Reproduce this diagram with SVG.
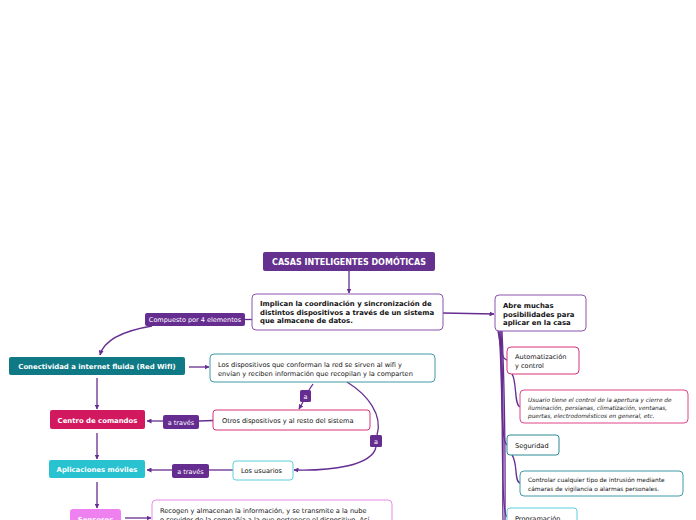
<svg xmlns="http://www.w3.org/2000/svg" width="696" height="520" viewBox="0 0 696 520">
<defs>
<marker id="ah" viewBox="0 0 10 10" refX="9" refY="5" markerWidth="5" markerHeight="5" orient="auto" markerUnits="userSpaceOnUse">
<path d="M0,0 L10,5 L0,10 Z" fill="#662d91"/>
</marker>
<style>
text{font-family:"DejaVu Sans",Verdana,sans-serif;}
.c{fill:none;stroke:#662d91;stroke-width:1.3;}
.ca{fill:none;stroke:#662d91;stroke-width:1.3;marker-end:url(#ah);}
.lbl{fill:#662d91;}
.lt{fill:#fff;font-size:6.5px;text-anchor:middle;}
.wt{fill:#fff;font-size:6.9px;font-weight:bold;text-anchor:middle;}
.bt{fill:#111;font-size:6.6px;}
.bb{fill:#111;font-size:6.9px;font-weight:bold;}
.it{fill:#222;font-size:5.8px;font-style:italic;}
</style>
</defs>
<rect width="696" height="520" fill="#fff"/>
<g id="connectors">
<path class="ca" d="M349,271 L349,293"/>
<path class="c" d="M245,319.5 L252,319.5"/>
<path class="ca" d="M152,326 C122,331 104,340 100,355"/>
<path class="ca" d="M443,313 L494,314"/>
<path class="ca" d="M189,367 L209,367"/>
<path class="c" d="M313,384 L309,390"/>
<path class="ca" d="M303,402 L299,409"/>
<path class="c" d="M213,420.5 L199,421"/>
<path class="ca" d="M163,421 L147,421"/>
<path class="c" d="M347,382 C368,395 383,415 377,435"/>
<path class="ca" d="M376,447 C372,466 330,471 294,470"/>
<path class="c" d="M233,470 L209,470"/>
<path class="ca" d="M172,470 L147,470"/>
<path class="ca" d="M97,378 L97,409"/>
<path class="ca" d="M97,433 L97,459"/>
<path class="ca" d="M97,482 L97,508"/>
<path class="ca" d="M125,518 L151,518"/>
<path class="c" d="M498,331 C501,345 500,358 507,360"/>
<path class="c" d="M499,331 C503,380 500,441 507,445"/>
<path class="c" d="M500,331 C504,400 500,512 507,517"/>
<path class="c" d="M501,331 C505,420 502,490 503,520"/>
<path class="c" d="M502,331 C506,420 505,490 505,520"/>
<path class="c" d="M512,374 C517,381 514,405 520,407"/>
<path class="c" d="M512,455 C518,463 514,482 520,483"/>
</g>
<g id="root">
<rect x="263" y="252" width="172" height="19" rx="2" fill="#65318f"/>
<text class="wt" x="349" y="264.8" style="font-size:8px">CASAS INTELIGENTES DOMÓTICAS</text>
</g>
<g id="main">
<rect x="252" y="294" width="191" height="36" rx="4" fill="#fff" stroke="#8a55ad" stroke-width="1"/>
<text class="bb" x="260" y="306">Implican la coordinación y sincronización de</text>
<text class="bb" x="260" y="314.5">distintos dispositivos a través de un sistema</text>
<text class="bb" x="260" y="323">que almacene de datos.</text>
</g>
<g id="lbl-compuesto">
<rect class="lbl" x="145" y="313" width="100" height="13" rx="2"/>
<text class="lt" x="195" y="322">Compuesto por 4 elementos</text>
</g>
<g id="abre">
<rect x="495" y="295" width="91" height="36" rx="4" fill="#fff" stroke="#8a55ad" stroke-width="1"/>
<text class="bb" x="503" y="308">Abre muchas</text>
<text class="bb" x="503" y="316.5">posibilidades para</text>
<text class="bb" x="503" y="325">aplicar en la casa</text>
</g>
<g id="conectividad">
<rect x="9" y="357" width="176" height="18" rx="2" fill="#0f7a85"/>
<text class="wt" x="97" y="369">Conectividad a internet fluida (Red WifI)</text>
</g>
<g id="dispositivos">
<rect x="210" y="354" width="225" height="28" rx="4" fill="#fff" stroke="#3f9aa6" stroke-width="1"/>
<text class="bt" x="218" y="367">Los dispositivos que conforman la red se sirven al wifi y</text>
<text class="bt" x="218" y="375.5">envían y reciben información que recopilan y la comparten</text>
</g>
<g id="lbl-a1">
<rect class="lbl" x="300" y="390" width="11" height="12" rx="1.5"/>
<text class="lt" x="305.5" y="398.5">a</text>
</g>
<g id="otros">
<rect x="213" y="410" width="157" height="20" rx="3" fill="#fff" stroke="#d6317a" stroke-width="1"/>
<text class="bt" x="222" y="423">Otros dispositivos y al resto del sistema</text>
</g>
<g id="lbl-atraves1">
<rect class="lbl" x="163" y="415" width="36" height="14" rx="2"/>
<text class="lt" x="181" y="424.5">a través</text>
</g>
<g id="centro">
<rect x="50" y="410" width="95" height="19" rx="2" fill="#d2195f"/>
<text class="wt" x="97.5" y="422.5">Centro de comandos</text>
</g>
<g id="lbl-a2">
<rect class="lbl" x="370" y="435" width="12" height="12" rx="1.5"/>
<text class="lt" x="376" y="443.5">a</text>
</g>
<g id="usuarios">
<rect x="233" y="461" width="60" height="19" rx="3" fill="#fff" stroke="#5dd0dc" stroke-width="1"/>
<text class="bt" x="241" y="473">Los usuarios</text>
</g>
<g id="lbl-atraves2">
<rect class="lbl" x="172" y="464" width="37" height="14" rx="2"/>
<text class="lt" x="190.5" y="473.5">a través</text>
</g>
<g id="aplicaciones">
<rect x="49" y="460" width="96" height="18" rx="2" fill="#28c2d1"/>
<text class="wt" x="97" y="472">Aplicaciones móviles</text>
</g>
<g id="sensores">
<rect x="70" y="509" width="51" height="18" rx="3" fill="#ee80f0"/>
<text class="wt" x="95.5" y="521.5">Sensores</text>
</g>
<g id="recogen">
<rect x="152" y="500" width="240" height="30" rx="4" fill="#fff" stroke="#e78ae9" stroke-width="1"/>
<text class="bt" x="160" y="513">Recogen y almacenan la información, y se transmite  a la nube</text>
<text class="bt" x="160" y="521.5">o servidor de la compañía a la que pertenece el dispositivo. Así</text>
</g>
<g id="automatizacion">
<rect x="507" y="347" width="72" height="27" rx="4" fill="#fff" stroke="#d6317a" stroke-width="1"/>
<text class="bt" x="515" y="359">Automatización</text>
<text class="bt" x="515" y="368">y control</text>
</g>
<g id="usuario-control">
<rect x="520" y="390" width="168" height="33" rx="4" fill="#fff" stroke="#e0458a" stroke-width="1"/>
<text class="it" x="528" y="402">Usuario tiene el control de la apertura y cierre de</text>
<text class="it" x="528" y="410">iluminación, persianas, climatización, ventanas,</text>
<text class="it" x="528" y="418">puertas, electrodomésticos en general, etc.</text>
</g>
<g id="seguridad">
<rect x="507" y="435" width="52" height="20" rx="3" fill="#fff" stroke="#2a8a96" stroke-width="1"/>
<text class="bt" x="515" y="448">Seguridad</text>
</g>
<g id="controlar">
<rect x="520" y="471" width="163" height="25" rx="4" fill="#fff" stroke="#3f9aa6" stroke-width="1"/>
<text class="bt" x="528" y="482" style="font-size:5.9px">Controlar cualquier tipo de intrusión mediante</text>
<text class="bt" x="528" y="490.5" style="font-size:5.9px">cámaras de vigilancia o alarmas personales.</text>
</g>
<g id="programacion">
<rect x="507" y="508" width="70" height="20" rx="3" fill="#fff" stroke="#5dd0dc" stroke-width="1"/>
<text class="bt" x="515" y="521">Programación</text>
</g>
</svg>
